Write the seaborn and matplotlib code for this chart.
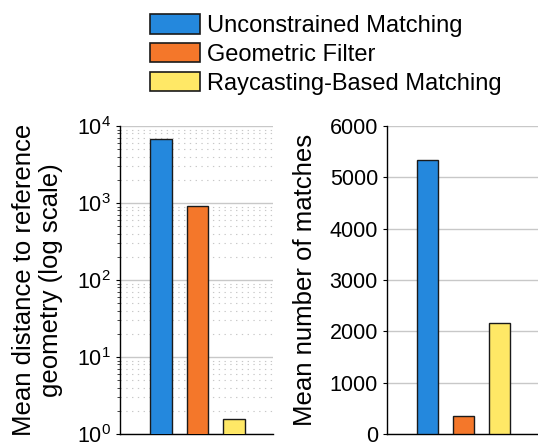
import numpy as np
import pandas as pd
import seaborn as sns
import matplotlib.pyplot as plt
from matplotlib.patches import Patch
from matplotlib.ticker import LogLocator, NullFormatter

# datos
methods = ['Unconstrained Matching', 'Geometric Filter', 'Raycasting-Based Matching']
colors = ['#2488dd', '#f4772a', '#ffe866']
mean_distance = [6700, 925, 1.57]
mean_matches = [5340, 345, 2160]

sns.set_style('white')
plt.rcParams['font.family'] = ['Liberation Sans', 'DejaVu Sans']
plt.rcParams['mathtext.fontset'] = 'custom'
plt.rcParams['mathtext.rm'] = 'Liberation Sans'
plt.rcParams['text.color'] = 'black'
plt.rcParams['axes.labelcolor'] = 'black'

df = pd.DataFrame({'method': methods, 'dist': mean_distance, 'matches': mean_matches})
pal = dict(zip(methods, colors))

fig = plt.figure(figsize=(5.38, 4.47), dpi=100)
ax1 = fig.add_axes([120 / 538, 13 / 447, 153 / 538, 308 / 447])
ax2 = fig.add_axes([387 / 538, 13 / 447, 151 / 538, 308 / 447])

for ax, col in [(ax1, 'dist'), (ax2, 'matches')]:
    sns.barplot(data=df, x='method', y=col, hue='method', palette=pal,
                saturation=1, width=0.6, edgecolor='#1a1a1a', linewidth=1.0,
                legend=False, ax=ax, zorder=3)
    ax.set_xlim(-1.13, 3.08)
    ax.set_xticks([])
    ax.set_xlabel('')
    for s in ['top', 'right']:
        ax.spines[s].set_visible(False)
    for s in ['left', 'bottom']:
        ax.spines[s].set_color('black')
        ax.spines[s].set_linewidth(1.0)
    ax.tick_params(axis='y', labelsize=15.5, direction='out', length=3,
                   width=0.8, colors='black', left=True)

# panel izquierdo: escala log
ax1.set_yscale('log')
ax1.set_ylim(1, 1e4)
ax1.yaxis.set_major_locator(LogLocator(base=10, numticks=10))
ax1.yaxis.set_minor_locator(LogLocator(base=10, subs=np.arange(2, 10), numticks=10))
ax1.yaxis.set_minor_formatter(NullFormatter())
ax1.tick_params(axis='y', which='minor', length=2, width=0.6, left=True)
ax1.grid(True, which='major', axis='y', color='#c8c8c8', linewidth=1.0, zorder=0)
ax1.grid(True, which='minor', axis='y', color='#c8c8c8', linewidth=0.8,
         linestyle=(0, (1.2, 4)), zorder=0)
ax1.set_ylabel('Mean distance to reference\ngeometry (log scale)', fontsize=18.5,
               linespacing=1.15, labelpad=10)

# panel derecho: lineal
ax2.set_ylim(0, 6000)
ax2.set_yticks(np.arange(0, 6001, 1000))
ax2.grid(True, which='major', axis='y', color='#c8c8c8', linewidth=1.0, zorder=0)
ax2.set_ylabel('Mean number of matches', fontsize=18.5, labelpad=9)

for ax in (ax1, ax2):
    ax.set_axisbelow(True)

handles = [Patch(facecolor=c, edgecolor='#1a1a1a', linewidth=1.2) for c in colors]
fig.legend(handles, methods, loc='upper left', bbox_to_anchor=(150 / 538, 1 - 14 / 447),
           frameon=False, fontsize=17, handlelength=2.1, handleheight=0.9,
           handletextpad=0.3, labelspacing=0.25, borderpad=0, borderaxespad=0)

fig.savefig('out.png', dpi=100)
